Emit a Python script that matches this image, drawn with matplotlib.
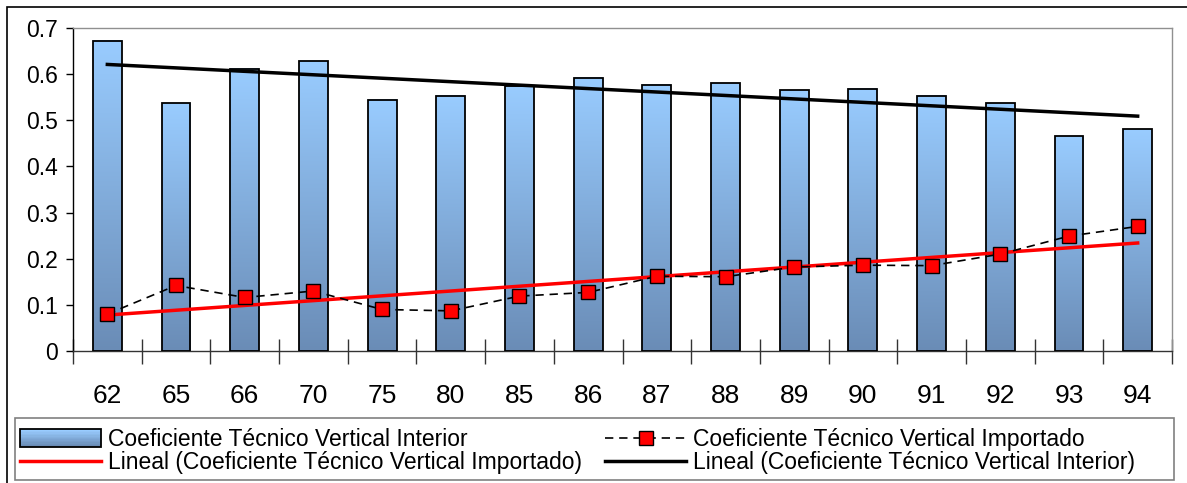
import numpy as np
import matplotlib
matplotlib.use("Agg")
import matplotlib.pyplot as plt
from matplotlib.patches import Rectangle
from matplotlib.legend_handler import HandlerPatch
from matplotlib.colors import LinearSegmentedColormap

plt.rcParams['font.family'] = ['Liberation Sans', 'DejaVu Sans']

# =========================
# Data
# =========================

years = ['62', '65', '66', '70', '75', '80', '85', '86',
         '87', '88', '89', '90', '91', '92', '93', '94']

interior = [0.672, 0.537, 0.612, 0.628, 0.545, 0.553, 0.575, 0.592,
            0.577, 0.580, 0.565, 0.568, 0.553, 0.537, 0.465, 0.481]

importado = [0.080, 0.142, 0.116, 0.130, 0.090, 0.087, 0.119, 0.127,
             0.162, 0.161, 0.182, 0.186, 0.185, 0.210, 0.249, 0.270]

yticks = [0, 0.1, 0.2, 0.3, 0.4, 0.5, 0.6, 0.7]
ytick_labels = ['0', '0.1', '0.2', '0.3', '0.4', '0.5', '0.6', '0.7']

lbl_int = "Coeficiente Técnico Vertical Interior"
lbl_imp = "Coeficiente Técnico Vertical Importado"

# =========================
# Figure
# =========================

W, H = 1187, 483
fig = plt.figure(figsize=(W / 100, H / 100), dpi=100)
ax = fig.add_axes([73 / W, (H - 351) / H, (1172 - 73) / W, (351 - 28) / H])

x = np.arange(len(years))
bar_w = 0.42

grad = LinearSegmentedColormap.from_list("bar", ["#6A8CB6", "#99CCFF"])
g = np.linspace(0, 1, 256).reshape(-1, 1)

for xi, h in zip(x, interior):
    ax.imshow(g, cmap=grad, origin='lower', aspect='auto',
              extent=[xi - bar_w / 2, xi + bar_w / 2, 0, h], zorder=2)
    ax.add_patch(Rectangle((xi - bar_w / 2, 0), bar_w, h, fill=False,
                           edgecolor='black', linewidth=1.3, zorder=3))

# trend lines (linear fit)
p_int = np.polyfit(x, interior, 1)
p_imp = np.polyfit(x, importado, 1)
xt = np.array([x[0], x[-1]])

ax.plot(x, importado, color='black', linestyle=(0, (5, 3.5)), linewidth=1.2,
        marker='s', markersize=10, markerfacecolor='#FF0000',
        markeredgecolor='black', markeredgewidth=1.0, zorder=5)
ax.plot(xt, np.polyval(p_imp, xt), color='#FF0000', linewidth=2.5, zorder=4)
ax.plot(xt, np.polyval(p_int, xt), color='black', linewidth=2.5, zorder=4)

ax.set_xlim(-0.5, len(years) - 0.5)
ax.set_ylim(0, 0.7)

ax.set_yticks(yticks)
ax.set_yticklabels(ytick_labels)
ax.set_xticks(x)
ax.set_xticklabels(years)
ax.set_xticks(np.arange(-0.5, len(years)), minor=True)

ax.tick_params(axis='y', direction='out', length=5, width=1, pad=6,
               labelsize=16.5, color='black')
ax.tick_params(axis='x', which='major', length=0, pad=24, labelsize=19)
ax.tick_params(axis='x', which='minor', direction='inout', length=18,
               width=1, color='#333333')

ax.spines['top'].set_color('#909090')
ax.spines['right'].set_color('#909090')
ax.spines['left'].set_color('black')
ax.spines['bottom'].set_color('#333333')
for s in ax.spines.values():
    s.set_linewidth(1)

# outer chart border
fig.patches.append(Rectangle((7 / W, -0.01), 1.02, (H - 7) / H + 0.01,
                             transform=fig.transFigure, fill=False,
                             edgecolor='black', linewidth=1.2))

# legend frame
fig.patches.append(Rectangle((15 / W, 3 / H), (1174 - 15) / W, 62 / H,
                             transform=fig.transFigure, facecolor='white',
                             edgecolor='#808080', linewidth=1.2))

# =========================
# Legend
# =========================


class GradientHandler(HandlerPatch):
    def create_artists(self, legend, orig_handle, xdescent, ydescent,
                       width, height, fontsize, trans):
        n = 12
        arts = []
        for i in range(n):
            r = Rectangle((-xdescent, -ydescent + height * i / n), width,
                          height / n + 0.2, facecolor=grad(i / (n - 1)),
                          edgecolor='none', transform=trans)
            arts.append(r)
        arts.append(Rectangle((-xdescent, -ydescent), width, height,
                              fill=False, edgecolor='black', linewidth=1.3,
                              transform=trans))
        return arts


h_bar = Rectangle((0, 0), 1, 1, label=lbl_int)
h_imp = plt.Line2D([], [], color='black', linestyle=(0, (5, 3.5)),
                   linewidth=1.2, marker='s', markersize=10,
                   markerfacecolor='#FF0000', markeredgecolor='black')
h_red = plt.Line2D([], [], color='#FF0000', linewidth=2.5)
h_blk = plt.Line2D([], [], color='black', linewidth=2.5)

leg = fig.legend([h_bar, h_red, h_imp, h_blk],
                 [lbl_int, "Lineal (" + lbl_imp + ")",
                  lbl_imp, "Lineal (" + lbl_int + ")"],
                 handler_map={Rectangle: GradientHandler()},
                 ncol=2, loc='center left',
                 bbox_to_anchor=(14 / W, 32 / H),
                 fontsize=16.5, frameon=False,
                 handlelength=3.55, handleheight=0.8,
                 handletextpad=0.3, labelspacing=0.0, borderpad=0.25,
                 borderaxespad=0, columnspacing=1.0)

fig.savefig("out.png", dpi=100)
